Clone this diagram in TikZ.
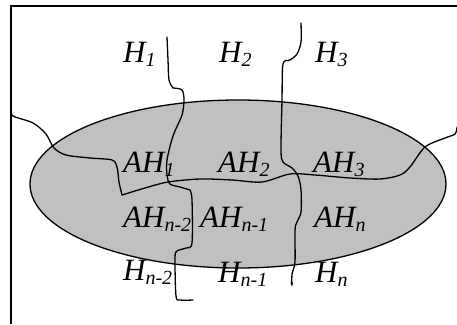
\documentclass[tikz,border=0pt]{standalone}
\usepackage{fontspec}
\setmainfont{Liberation Serif}
\usetikzlibrary{arrows.meta}
\newcommand\sbs[1]{\raisebox{-4pt}{\fontsize{20}{22}\selectfont #1}}
\tikzset{
  lbl/.style={anchor=base west, inner sep=0pt, font=\fontsize{31}{36}\selectfont\itshape},
  wig/.style={line width=1.3pt, line join=round, line cap=round},
}
\begin{document}
\begin{tikzpicture}[x=1pt,y=-1pt]
\useasboundingbox (0,0) rectangle (457,324);
\fill[white] (0,0) rectangle (457,324);
% frame (only top and left visible)
\draw[line width=1.3pt] (457,6) -- (11,6) -- (11,324);
% gray ellipse
\draw[line width=1.3pt, fill={rgb,255:red,192;green,192;blue,192}] (238,184) ellipse [x radius=208, y radius=84];
% curve A
\draw[wig] plot[smooth,tension=0.5] coordinates {(11,110) (13,116) (33,123) (46,134) (54,148) (66,155) (90,158) (112,160) (117,167) (119,182) (122,195)}
  -- plot[smooth,tension=0.5] coordinates {(122,195) (145,188) (168,182) (200,179) (232,180) (262,182) (290,174) (315,175) (350,178) (380,179) (400,175) (410,167) (425,147) (445,138) (455,134) (457,127)};
% curve B
\draw[wig] plot[smooth,tension=0.5] coordinates {(167,37) (168,60) (169,80) (173,88)}
  -- plot[smooth,tension=0.5] coordinates {(173,88) (182,90) (184,100) (182,115) (173,136) (167,160) (167,175) (170,184) (180,187) (190,190)}
  -- plot[smooth,tension=0.5] coordinates {(190,190) (192,200) (192,243) (186,248) (177,251) (175,258) (176,296) (180,300) (193,300)};
% curve C
\draw[wig,-{Stealth[length=5pt,width=2.5pt]}] plot[smooth,tension=0.5] coordinates {(301,23) (301,42) (297,54) (290,60) (283,64) (282,100) (281,150) (283,162) (292,168) (298,176) (301,190) (301,212) (297,222) (295,230) (295,262) (292,274) (292,287)};
% labels
\node[lbl] (h1) at (123,62) {H\sbs{1}};
\node[lbl] (h2) at (219,62) {H\sbs{2}};
\node[lbl] (h3) at (315,62) {H\sbs{3}};
\node[lbl] (ah1) at (123,172) {AH\sbs{1}};
\node[lbl] (ah2) at (218,172) {AH\sbs{2}};
\node[lbl] (ah3) at (313,172) {AH\sbs{3}};
\node[lbl] (ahn2) at (123,227) {AH\sbs{n-2}};
\node[lbl] (ahn1) at (200,227) {AH\sbs{n-1}};
\node[lbl] (ahn) at (314,227) {AH\sbs{n}};
\node[lbl] (hn2) at (123,280) {H\sbs{n-2}};
\node[lbl] (hn1) at (218,282) {H\sbs{n-1}};
\node[lbl] (hn) at (315,282) {H\sbs{n}};
\end{tikzpicture}
\end{document}
